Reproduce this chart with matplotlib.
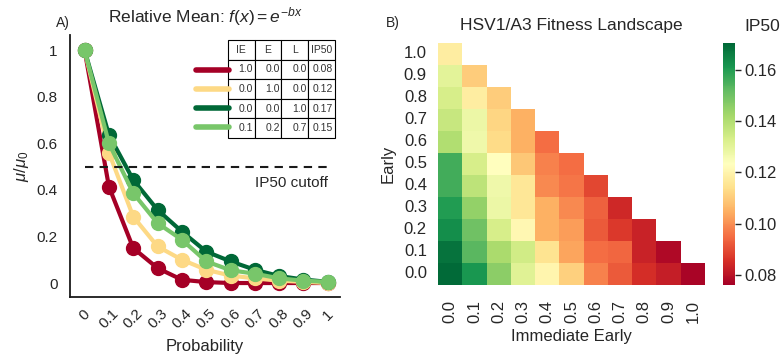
import matplotlib
matplotlib.use('Agg')
import matplotlib.pyplot as plt
import numpy as np
import seaborn as sns

sns.set_style('white')
plt.rcParams['font.family'] = ['Liberation Sans', 'DejaVu Sans']
plt.rcParams['mathtext.fontset'] = 'custom'
plt.rcParams['mathtext.rm'] = 'Liberation Sans'
plt.rcParams['mathtext.it'] = 'Liberation Sans:italic'
TXT = '#262626'

# ---------------- data ----------------
prob = [0, 0.1, 0.2, 0.3, 0.4, 0.5, 0.6, 0.7, 0.8, 0.9, 1.0]
prob_labels = ['0', '0.1', '0.2', '0.3', '0.4', '0.5', '0.6', '0.7', '0.8', '0.9', '1']

mean_ie = [1.0, 0.414, 0.150, 0.064, 0.014, 0.004, 0.0, 0.0, 0.0, 0.0, 0.0]
mean_e = [1.0, 0.56, 0.285, 0.157, 0.100, 0.057, 0.032, 0.020, 0.010, 0.005, 0.0]
mean_l = [1.0, 0.636, 0.443, 0.314, 0.221, 0.135, 0.093, 0.057, 0.030, 0.015, 0.005]
mean_mix = [1.0, 0.60, 0.386, 0.257, 0.186, 0.093, 0.055, 0.040, 0.020, 0.010, 0.005]

series_colors = ['#a50026', '#fdd985', '#006837', '#78c66a']

table_header = ['IE', 'E', 'L', 'IP50']
table_rows = [['1.0', '0.0', '0.0', '0.08'],
              ['0.0', '1.0', '0.0', '0.12'],
              ['0.0', '0.0', '1.0', '0.17'],
              ['0.1', '0.2', '0.7', '0.15']]

# heatmap: IP50 per Early level (row), columns = Immediate Early 0.0 .. (1 - Early)
ie_labels = ['0.0', '0.1', '0.2', '0.3', '0.4', '0.5', '0.6', '0.7', '0.8', '0.9', '1.0']
early_labels = ['0.0', '0.1', '0.2', '0.3', '0.4', '0.5', '0.6', '0.7', '0.8', '0.9', '1.0']
ip50_by_early = [
    [0.170, 0.161, 0.146, 0.131, 0.120, 0.111, 0.098, 0.092, 0.085, 0.082, 0.077],
    [0.168, 0.153, 0.141, 0.134, 0.115, 0.103, 0.095, 0.094, 0.083, 0.078],
    [0.163, 0.150, 0.133, 0.121, 0.105, 0.102, 0.092, 0.087, 0.083],
    [0.160, 0.145, 0.128, 0.116, 0.105, 0.099, 0.093, 0.084],
    [0.156, 0.138, 0.127, 0.116, 0.099, 0.096, 0.089],
    [0.156, 0.133, 0.123, 0.109, 0.098, 0.095],
    [0.140, 0.127, 0.113, 0.105, 0.095],
    [0.136, 0.128, 0.112, 0.105],
    [0.133, 0.118, 0.110],
    [0.130, 0.110],
    [0.118],
]

fig = plt.figure(figsize=(7.83, 3.58), dpi=100)

# ---------------- panel A ----------------
ax = fig.add_axes([0.0894, 0.1704, 0.3448, 0.7318])
for ys, c in zip([mean_ie, mean_e, mean_l, mean_mix], series_colors):
    ax.plot(prob, ys, color=c, lw=3, marker='o', markersize=10, clip_on=False)
ax.plot([0, 1], [0.5, 0.5], color='#1a1a1a', ls='--', lw=1.5, dashes=(4, 3))
ax.text(1.0, 0.43, 'IP50 cutoff', ha='right', va='center', fontsize=11, color=TXT)

ax.set_xlim(-0.06, 1.05)
ax.set_ylim(-0.06, 1.065)
ax.set_xticks(prob)
ax.set_xticklabels(prob_labels, rotation=45, ha='center', fontsize=11, color=TXT)
ax.set_yticks([0, 0.2, 0.4, 0.6, 0.8, 1.0])
ax.set_yticklabels(['0', '0.2', '0.4', '0.6', '0.8', '1'], fontsize=11, color=TXT)
ax.tick_params(axis='x', length=0, pad=7)
ax.tick_params(axis='y', length=0, pad=9)
for s in ['top', 'right']:
    ax.spines[s].set_visible(False)
for s in ['left', 'bottom']:
    ax.spines[s].set_color('#1a1a1a')
    ax.spines[s].set_linewidth(1.3)
ax.set_xlabel('Probability', fontsize=12, color=TXT, labelpad=5)
ax.set_ylabel(r'$\mu/\mu_0$', fontsize=12, color=TXT, labelpad=4)
ax.set_title(r'Relative Mean: $f(x)=e^{-bx}$', fontsize=12.5, color=TXT, pad=9)

tbl = ax.table(cellText=table_rows, colLabels=table_header,
               bbox=[0.585, 0.607, 0.396, 0.374], cellLoc='right', colLoc='center')
tbl.auto_set_font_size(False)
tbl.set_fontsize(7.5)
for (r, cc), cell in tbl.get_celld().items():
    cell.set_linewidth(0.8)
    cell.get_text().set_color('#333333')
    cell.PAD = 0.06
row_y = [0.868, 0.795, 0.723, 0.649]
for y, c in zip(row_y, series_colors):
    ax.plot([0.465, 0.59], [y, y], transform=ax.transAxes, color=c, lw=4,
            solid_capstyle='round', clip_on=False, zorder=1)

fig.text(0.072, 0.935, 'A)', fontsize=10, color=TXT, ha='left', va='center')

# ---------------- panel B ----------------
n = len(ie_labels)
mat = np.full((n, n), np.nan)
for i, row in enumerate(ip50_by_early):
    mat[i, :len(row)] = row
mat = mat[::-1]
mask = np.isnan(mat)

hax = fig.add_axes([0.5594, 0.204, 0.341, 0.676])
cax = fig.add_axes([0.9234, 0.204, 0.0153, 0.676])
sns.heatmap(mat, mask=mask, cmap='RdYlGn', vmin=0.076, vmax=0.1705, ax=hax, cbar_ax=cax,
            xticklabels=ie_labels, yticklabels=early_labels[::-1], square=False)
hax.set_xticklabels(ie_labels, rotation=90, fontsize=12, color=TXT)
hax.set_yticklabels(early_labels[::-1], rotation=0, fontsize=12, color=TXT)
hax.tick_params(length=0, pad=8)
hax.tick_params(axis='x', pad=11)
hax.set_xlabel('Immediate Early', fontsize=12, color=TXT, labelpad=4)
hax.set_ylabel('Early', fontsize=12, color=TXT, labelpad=6)
hax.set_title('HSV1/A3 Fitness Landscape', fontsize=12.5, color=TXT, pad=9)

cax.set_yticks([0.08, 0.10, 0.12, 0.14, 0.16])
cax.set_yticklabels(['0.08', '0.10', '0.12', '0.14', '0.16'], fontsize=12, color=TXT)
cax.tick_params(length=4, width=1, pad=3, color=TXT)
fig.text(0.951, 0.925, 'IP50', fontsize=12.5, color=TXT, ha='left', va='center')
fig.text(0.493, 0.935, 'B)', fontsize=10, color=TXT, ha='left', va='center')

fig.savefig('out.png', dpi=100)
